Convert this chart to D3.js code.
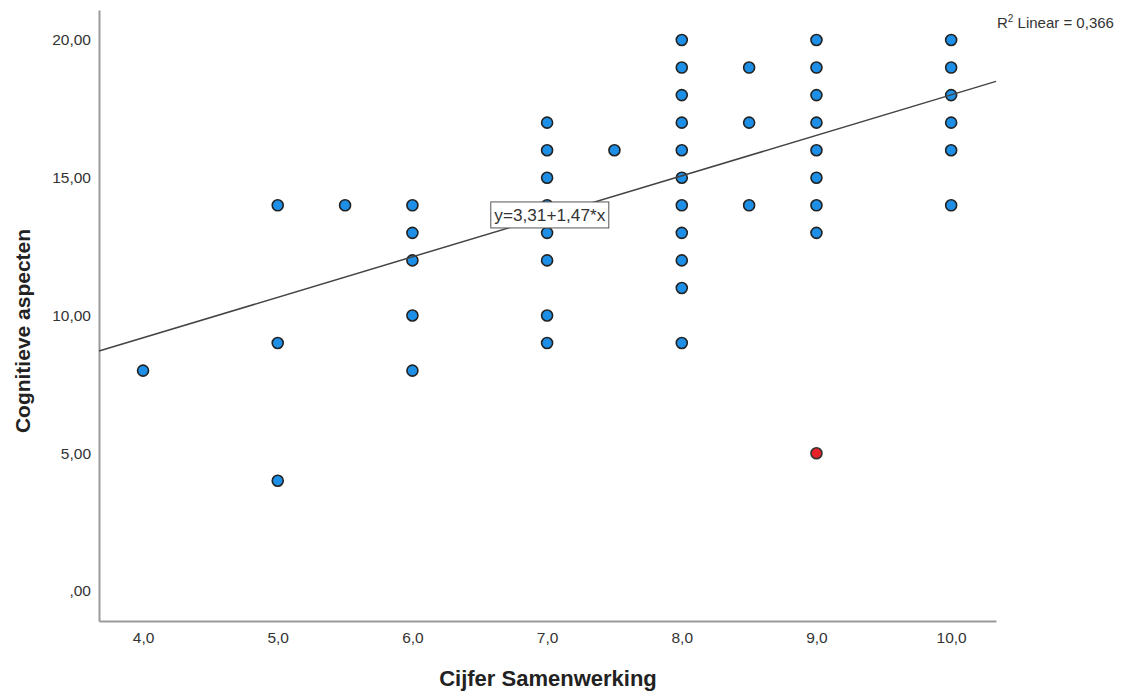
<!DOCTYPE html>
<html>
<head>
<meta charset="utf-8">
<script src="https://cdn.jsdelivr.net/npm/d3@7"></script>
<style>
  body { margin: 0; background: #fff; }
  text { font-family: "Liberation Sans", Arial, sans-serif; }
</style>
</head>
<body>
<div id="chart"></div>
<script>
// data (x = Cijfer Samenwerking, y = Cognitieve aspecten)
const xValues = [4, 5, 5, 5, 5.5, 6, 6, 6, 6, 6,
  7, 7, 7, 7, 7, 7, 7, 7, 7.5,
  8, 8, 8, 8, 8, 8, 8, 8, 8, 8, 8,
  8.5, 8.5, 8.5,
  9, 9, 9, 9, 9, 9, 9, 9,
  10, 10, 10, 10, 10, 10];
const yValues = [8, 14, 9, 4, 14, 14, 13, 12, 10, 8,
  17, 16, 15, 14, 13, 12, 10, 9, 16,
  20, 19, 18, 17, 16, 15, 14, 13, 12, 11, 9,
  19, 17, 14,
  20, 19, 18, 17, 16, 15, 14, 13,
  20, 19, 18, 17, 16, 14];
// the one highlighted case
const outlierX = [9];
const outlierY = [5];

const xTicks = [4, 5, 6, 7, 8, 9, 10];
const xTickLabels = ["4,0", "5,0", "6,0", "7,0", "8,0", "9,0", "10,0"];
const yTicks = [0, 5, 10, 15, 20];
const yTickLabels = [",00", "5,00", "10,00", "15,00", "20,00"];

const intercept = 3.31;
const slope = 1.47;
const rSquared = "0,366";

const width = 1125;
const height = 695;

const svg = d3.select("#chart")
  .append("svg")
  .attr("width", width)
  .attr("height", height);

const xScale = d3.scaleLinear()
  .domain([3.673, 10.333])
  .range([99, 996]);

const yScale = d3.scaleLinear()
  .domain([-1.09, 21.09])
  .range([621, 10]);

// axes
const xAxis = d3.axisBottom(xScale)
  .tickValues(xTicks)
  .tickFormat((d, i) => xTickLabels[i])
  .tickSize(0)
  .tickPadding(11);

const yAxis = d3.axisLeft(yScale)
  .tickValues(yTicks)
  .tickFormat((d, i) => yTickLabels[i])
  .tickSize(0)
  .tickPadding(8);

const gx = svg.append("g")
  .attr("transform", "translate(0,621)")
  .call(xAxis);

const gy = svg.append("g")
  .attr("transform", "translate(99,0)")
  .call(yAxis);

[gx, gy].forEach(g => {
  g.select(".domain").attr("stroke", "#9a9a9a").attr("stroke-width", 2);
  g.selectAll("text")
    .attr("fill", "#333")
    .style("font-size", "15.5px")
    .style("font-family", "Liberation Sans, Arial, sans-serif");
});

// points
const points = xValues.map((x, i) => ({ x: x, y: yValues[i] }));

svg.append("g")
  .selectAll("circle")
  .data(points)
  .enter()
  .append("circle")
  .attr("cx", d => xScale(d.x))
  .attr("cy", d => yScale(d.y))
  .attr("r", 5.5)
  .attr("fill", "#1e8fe6")
  .attr("stroke", "#222")
  .attr("stroke-width", 1.6);

svg.append("g")
  .selectAll("circle")
  .data(outlierX.map((x, i) => ({ x: x, y: outlierY[i] })))
  .enter()
  .append("circle")
  .attr("cx", d => xScale(d.x))
  .attr("cy", d => yScale(d.y))
  .attr("r", 5.5)
  .attr("fill", "#e8202a")
  .attr("stroke", "#333")
  .attr("stroke-width", 1.6);

// fit line
const xDomain = xScale.domain();
svg.append("line")
  .attr("x1", xScale(xDomain[0]))
  .attr("y1", yScale(intercept + slope * xDomain[0]))
  .attr("x2", xScale(xDomain[1]))
  .attr("y2", yScale(intercept + slope * xDomain[1]))
  .attr("stroke", "#444")
  .attr("stroke-width", 1.5);

// equation label
const eqX = 7.02;
const eqY = 13.65;
const eqBox = svg.append("g")
  .attr("transform", `translate(${xScale(eqX)},${yScale(eqY)})`);
eqBox.append("rect")
  .attr("x", -59)
  .attr("y", -13)
  .attr("width", 118)
  .attr("height", 26)
  .attr("fill", "#fff")
  .attr("stroke", "#555")
  .attr("stroke-width", 1);
eqBox.append("text")
  .attr("text-anchor", "middle")
  .attr("y", 6)
  .attr("fill", "#333")
  .attr("textLength", 111)
  .attr("lengthAdjust", "spacingAndGlyphs")
  .style("font-size", "17px")
  .text(`y=${String(intercept).replace(".", ",")}+${String(slope).replace(".", ",")}*x`);

// R squared
const r2 = svg.append("text")
  .attr("x", 997)
  .attr("y", 28)
  .attr("fill", "#333")
  .style("font-size", "15px");
r2.append("tspan").text("R");
r2.append("tspan").attr("dy", -6).style("font-size", "10px").text("2");
r2.append("tspan").attr("dy", 6).text(" Linear = " + rSquared);

// axis titles
svg.append("text")
  .attr("x", 548)
  .attr("y", 686)
  .attr("text-anchor", "middle")
  .attr("fill", "#222")
  .style("font-size", "22px")
  .style("font-weight", "bold")
  .text("Cijfer Samenwerking");

svg.append("text")
  .attr("transform", "rotate(-90)")
  .attr("x", -331)
  .attr("y", 30)
  .attr("text-anchor", "middle")
  .attr("fill", "#222")
  .style("font-size", "21px")
  .style("font-weight", "bold")
  .text("Cognitieve aspecten");
</script>
</body>
</html>
